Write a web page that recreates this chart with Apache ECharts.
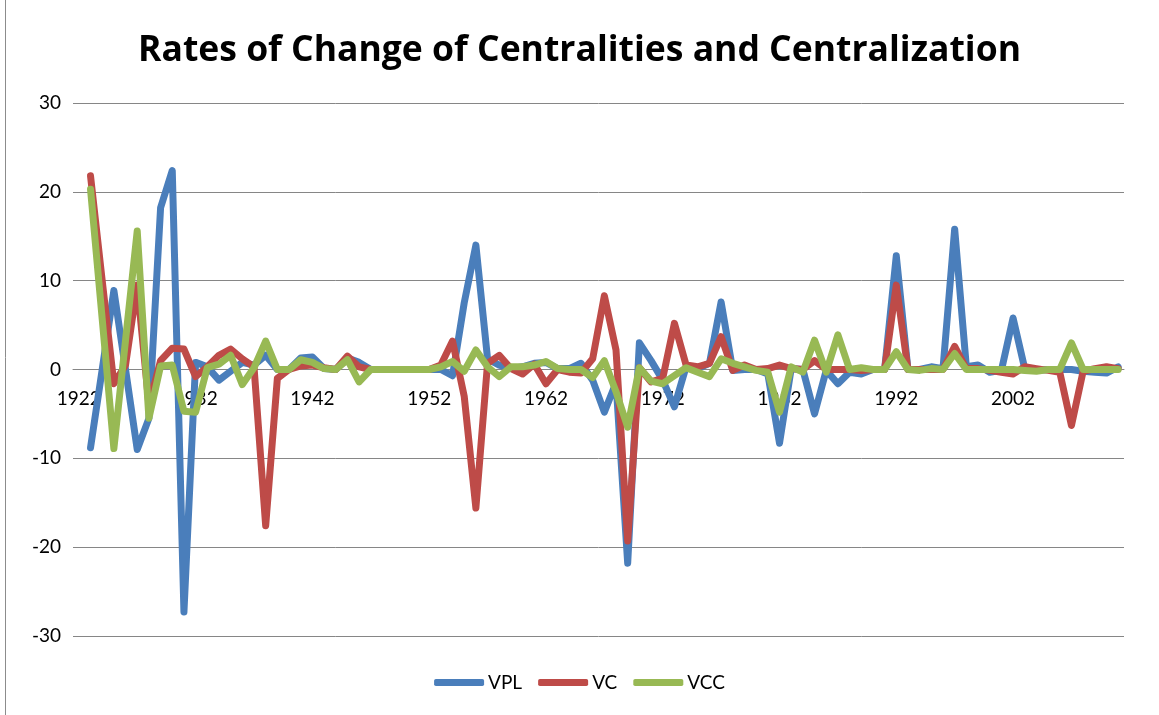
<!DOCTYPE html>
<html>
<head>
<meta charset="utf-8">
<script src="https://cdn.jsdelivr.net/npm/echarts@6/dist/echarts.min.js"></script>
<style>
  html, body { margin: 0; padding: 0; background: #ffffff; }
  #chart { width: 1159px; height: 715px; }
</style>
</head>
<body>
<div id="chart"></div>
<script>
// Years on the category axis (1922 has no rate yet)
const years = [];
for (let y = 1922; y <= 2011; y++) years.push(String(y));

// VPL rates of change, 1922..2011
const vpl = [
  null, -8.8, 0.0, 8.9, 0.0, -9.0, -5.5, 18.2, 22.4, -27.3,
  0.8, 0.3, -1.2, -0.2, 0.8, 0.5, 1.6, 0.0, 0.0, 1.3,
  1.4, 0.1, 0.0, 1.3, 0.8, 0.0, 0.0, 0.0, 0.0, 0.0,
  0.0, 0.0, -0.7, 7.5, 14.0, 1.2, 0.5, 0.1, 0.3, 0.7,
  0.8, 0.1, 0.1, 0.7, -1.2, -4.8, -1.5, -21.8, 3.0, 1.0,
  -1.2, -4.2, 0.3, 0.1, 0.7, 7.6, -0.1, 0.0, 0.0, -0.5,
  -8.3, 0.1, 0.0, -5.0, -0.1, -1.6, -0.3, -0.5, 0.0, 0.0,
  12.8, 0.0, 0.0, 0.3, 0.1, 15.8, 0.3, 0.5, -0.3, -0.1,
  5.8, 0.1, -0.1, 0.0, 0.0, 0.0, -0.2, -0.3, -0.4, 0.3
];

// VC rates of change, 1922..2011
const vc = [
  null, 21.8, 10.0, -1.6, 0.5, 9.5, -4.0, 1.0, 2.4, 2.3,
  -0.8, 0.3, 1.6, 2.3, 1.2, 0.3, -17.6, -1.0, 0.0, 0.4,
  0.5, 0.2, 0.0, 1.5, 0.3, 0.0, 0.0, 0.0, 0.0, 0.0,
  0.0, 0.5, 3.2, -3.0, -15.6, 0.7, 1.6, 0.1, -0.5, 0.6,
  -1.6, 0.0, -0.3, -0.4, 1.2, 8.3, 2.2, -19.3, 0.2, -1.4,
  -1.0, 5.2, 0.5, 0.3, 0.7, 3.7, -0.1, 0.5, 0.0, 0.1,
  0.5, 0.1, 0.0, 1.0, 0.0, 0.0, 0.0, -0.1, 0.0, 0.0,
  9.5, 0.0, 0.0, 0.0, 0.0, 2.6, 0.1, 0.1, -0.1, -0.3,
  -0.5, 0.3, 0.1, -0.1, -0.3, -6.3, -0.2, 0.1, 0.3, 0.1
];

// VCC rates of change, 1922..2011
const vcc = [
  null, 20.3, 5.7, -8.9, 3.3, 15.6, -5.5, 0.4, 0.5, -4.7,
  -4.8, 0.2, 0.6, 1.6, -1.7, 0.2, 3.2, 0.0, 0.0, 1.1,
  0.8, 0.1, 0.0, 1.1, -1.4, 0.0, 0.0, 0.0, 0.0, 0.0,
  0.0, 0.3, 0.9, -0.2, 2.2, 0.3, -0.8, 0.3, 0.3, 0.5,
  0.9, 0.1, 0.0, 0.0, -0.9, 1.0, -2.5, -6.5, 0.2, -1.3,
  -1.6, -0.7, 0.2, -0.3, -0.8, 1.2, 0.7, 0.3, -0.1, -0.3,
  -4.8, 0.3, -0.3, 3.3, -0.3, 3.9, 0.0, 0.2, 0.0, 0.0,
  2.0, 0.0, -0.1, 0.1, 0.0, 1.8, 0.0, 0.0, 0.0, 0.0,
  0.0, -0.1, -0.2, 0.0, 0.0, 3.0, 0.0, 0.0, 0.0, 0.0
];

const seriesNames = ['VPL', 'VC', 'VCC'];
const seriesColors = ['#4A7EBB', '#BE4B48', '#98B954'];
const seriesData = [vpl, vc, vcc];

const FONT = 'Lato, "Open Sans", sans-serif';
const TITLE_FONT = '"Open Sans", Lato, sans-serif';
const GRID_COLOR = '#868686';

// plot area edges
const GRID_TOP = 103;
const GRID_BOTTOM = 79;
const Y_MIN = -30;
const Y_MAX = 30;

const chart = echarts.init(document.getElementById('chart'), null, { renderer: 'canvas' });

// the category axis sits on the zero line: shift it up from the plot bottom
const plotHeight = 715 - GRID_TOP - GRID_BOTTOM;
const zeroOffset = -plotHeight * (0 - Y_MIN) / (Y_MAX - Y_MIN);

chart.setOption({
  animation: false,
  backgroundColor: '#ffffff',
  title: {
    text: 'Rates of Change of Centralities and Centralization',
    left: 'center',
    top: 28,
    textStyle: { fontFamily: TITLE_FONT, fontSize: 35.5, fontWeight: 'bold', color: '#000000' }
  },
  legend: {
    data: seriesNames,
    bottom: 18,
    left: 'center',
    icon: 'roundRect',
    itemWidth: 50,
    itemHeight: 7,
    itemGap: 16,
    textStyle: { fontFamily: FONT, fontSize: 19, color: '#000000', padding: [0, 0, 0, -1] }
  },
  grid: { left: 73, right: 35, top: GRID_TOP, bottom: GRID_BOTTOM, containLabel: false },
  xAxis: {
    type: 'category',
    data: years,
    boundaryGap: true,
    position: 'bottom',
    offset: zeroOffset,
    axisLine: { show: true, onZero: false, lineStyle: { color: GRID_COLOR, width: 1 } },
    axisTick: { show: false },
    axisLabel: { interval: 9, margin: 20, fontFamily: FONT, fontSize: 19, color: '#000000' },
    splitLine: { show: false }
  },
  yAxis: {
    type: 'value',
    min: Y_MIN,
    max: Y_MAX,
    interval: 10,
    axisLine: { show: false },
    axisTick: { show: false },
    axisLabel: { margin: 12, fontFamily: FONT, fontSize: 19, color: '#000000' },
    splitLine: { show: true, lineStyle: { color: GRID_COLOR, width: 1 } }
  },
  series: seriesNames.map((name, i) => ({
    name: name,
    type: 'line',
    data: seriesData[i],
    symbol: 'none',
    connectNulls: false,
    itemStyle: { color: seriesColors[i] },
    lineStyle: { color: seriesColors[i], width: 7, cap: 'round', join: 'round' }
  })),
  graphic: [
    {
      type: 'line',
      shape: { x1: 5.5, y1: 0, x2: 5.5, y2: 715 },
      style: { stroke: '#8c8c8c', lineWidth: 1 },
      silent: true
    }
  ]
});
</script>
</body>
</html>
